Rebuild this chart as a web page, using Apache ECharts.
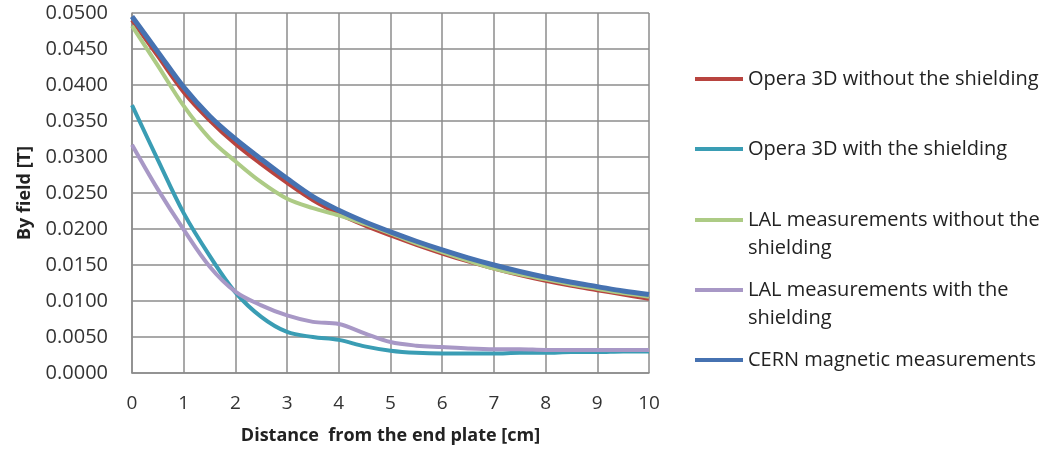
<!DOCTYPE html>
<html>
<head>
<meta charset="utf-8">
<script src="https://cdn.jsdelivr.net/npm/echarts@6/dist/echarts.min.js"></script>
<style>
html,body{margin:0;padding:0;background:#fff;}
#chart{width:1049px;height:452px;}
</style>
</head>
<body>
<div id="chart"></div>
<script>
var distance = [0, 0.5, 1, 1.5, 2, 2.5, 3, 3.5, 4, 4.5, 5, 5.5, 6, 6.5, 7, 7.5, 8, 8.5, 9, 9.5, 10];
var operaWithout = [0.0490, 0.0440, 0.0390, 0.0351, 0.0318, 0.0290, 0.0264, 0.0240, 0.0221, 0.0205, 0.0191, 0.0178, 0.0166, 0.0155, 0.0145, 0.0136, 0.0128, 0.0121, 0.0115, 0.0109, 0.0103];
var operaWith = [0.0372, 0.0296, 0.0222, 0.0163, 0.0112, 0.0078, 0.0057, 0.0050, 0.0046, 0.0037, 0.0031, 0.0028, 0.0027, 0.0027, 0.0027, 0.0028, 0.0028, 0.0029, 0.0029, 0.0030, 0.0030];
var lalWithout = [0.0482, 0.0427, 0.0371, 0.0326, 0.0294, 0.0265, 0.0242, 0.0229, 0.0219, 0.0207, 0.0194, 0.0180, 0.0168, 0.0156, 0.0145, 0.0137, 0.0130, 0.0123, 0.0117, 0.0111, 0.0106];
var lalWith = [0.0317, 0.0255, 0.0199, 0.0148, 0.0113, 0.0094, 0.0080, 0.0071, 0.0068, 0.0055, 0.0043, 0.0038, 0.0036, 0.0034, 0.0033, 0.0033, 0.0032, 0.0032, 0.0032, 0.0032, 0.0032];
var cern = [0.0495, 0.0446, 0.0397, 0.0357, 0.0325, 0.0297, 0.0270, 0.0245, 0.0226, 0.0210, 0.0196, 0.0183, 0.0171, 0.0160, 0.0150, 0.0141, 0.0133, 0.0126, 0.0120, 0.0114, 0.0109];

var seriesNames = ['Opera 3D without the shielding', 'Opera 3D with the shielding', 'LAL measurements without the shielding', 'LAL measurements with the shielding', 'CERN magnetic measurements'];
var legendLabels = ['Opera 3D without the shielding', 'Opera 3D with the shielding', '\nLAL measurements without the\nshielding', '\nLAL measurements with the\nshielding', 'CERN magnetic measurements'];
var seriesValues = [operaWithout, operaWith, lalWithout, lalWith, cern];
var colors = ['#B8443F', '#3A9DB4', '#ADCB85', '#A898C6', '#4672B1'];
var widths = [4, 4, 4, 4, 5];
var legendY = [79, 149, 220, 290, 360];

var FONT = '"Open Sans", sans-serif';
var LH = 28;

function pairs(vals) {
  return distance.map(function (x, i) { return [x, vals[i]]; });
}

var series = seriesNames.map(function (n, i) {
  return {
    name: n,
    type: 'line',
    data: pairs(seriesValues[i]),
    smooth: 0.35,
    showSymbol: false,
    symbol: 'none',
    lineStyle: { color: colors[i], width: widths[i] },
    itemStyle: { color: colors[i] },
    z: i === 4 ? 5 : 3
  };
});

var legends = seriesNames.map(function (n, i) {
  var lines = legendLabels[i].split('\n').length;
  return {
    orient: 'vertical',
    left: 695,
    top: legendY[i] - lines * LH / 2,
    padding: 0,
    itemWidth: 48,
    itemHeight: 4,
    icon: 'rect',
    data: [n],
    formatter: function () { return legendLabels[i]; },
    textStyle: {
      fontFamily: FONT,
      fontSize: 20,
      color: '#222',
      lineHeight: LH
    },
    selectedMode: false
  };
});

var chart = echarts.init(document.getElementById('chart'));
chart.setOption({
  animation: false,
  backgroundColor: '#fff',
  legend: legends,
  grid: { left: 132, right: 400, top: 13, bottom: 79, containLabel: false },
  xAxis: {
    type: 'value',
    min: 0, max: 10, interval: 1,
    name: 'Distance  from the end plate [cm]',
    nameLocation: 'middle',
    nameGap: 54,
    nameTextStyle: { fontFamily: FONT, fontSize: 18, fontWeight: 'bold', color: '#222' },
    axisLine: { lineStyle: { color: '#8c8c8c', width: 1.5 } },
    axisTick: { show: false },
    axisLabel: { margin: 21, fontFamily: FONT, fontSize: 19, color: '#333' },
    splitLine: { show: true, lineStyle: { color: '#8c8c8c', width: 1.5 } }
  },
  yAxis: {
    type: 'value',
    min: 0, max: 0.05, interval: 0.005,
    name: 'By field [T]',
    nameLocation: 'middle',
    nameGap: 98,
    nameTextStyle: { fontFamily: FONT, fontSize: 18, fontWeight: 'bold', color: '#222' },
    axisLine: { show: true, lineStyle: { color: '#8c8c8c', width: 1.5 } },
    axisTick: { show: false },
    axisLabel: {
      margin: 24, fontFamily: FONT, fontSize: 20, color: '#333',
      formatter: function (v) { return v.toFixed(4); }
    },
    splitLine: { show: true, lineStyle: { color: '#8c8c8c', width: 1.5 } }
  },
  series: series
});
</script>
</body>
</html>
